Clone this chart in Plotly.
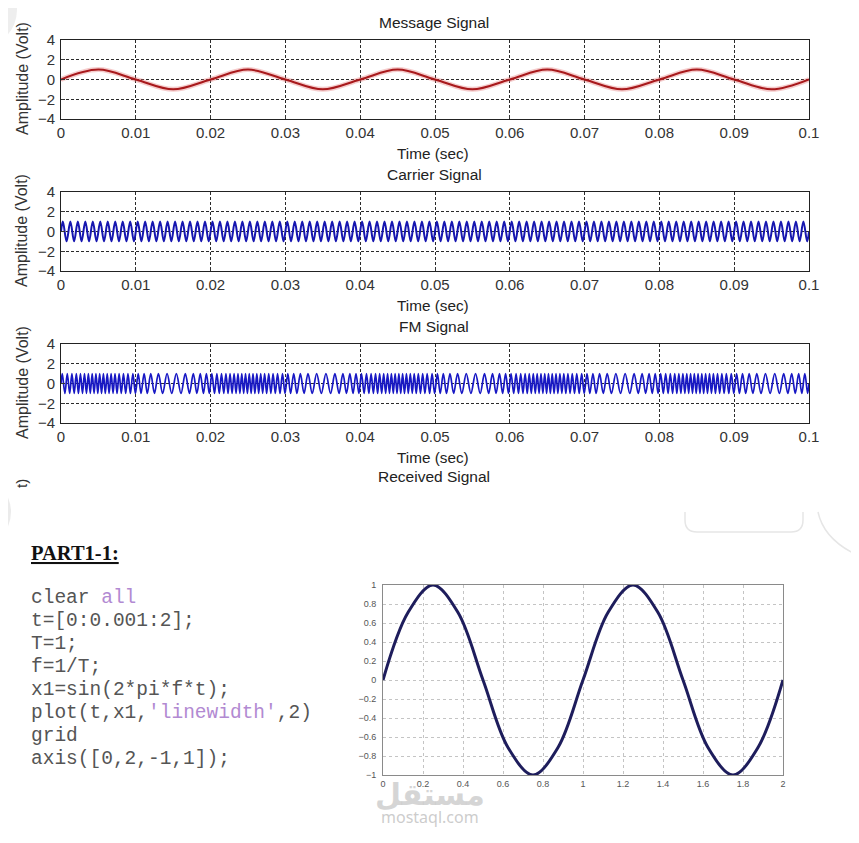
import numpy as np
import plotly.graph_objects as go

W, H = 859, 843
OFF = 8  # the page body margin shifts the figure by this much
FW, FH = W - OFF, H - OFF

# --- data ----------------------------------------------------------------

# message signal, quarter-period samples (s, V)
msg_t = [0.0, 0.005, 0.01, 0.015, 0.02, 0.025, 0.03, 0.035, 0.04, 0.045, 0.05,
         0.055, 0.06, 0.065, 0.07, 0.075, 0.08, 0.085, 0.09, 0.095, 0.1]
msg_v = [0, 1, 0, -1, 0, 1, 0, -1, 0, 1, 0, -1, 0, 1, 0, -1, 0, 1, 0, -1, 0]

# carrier: crest / trough times in ms (about one cycle per ms)
carrier_t_ms = [
    0,
    0.25, 0.75, 1.25, 1.75, 2.25, 2.75, 3.25, 3.75, 4.25, 4.75, 5.25, 5.75, 6.25, 6.75, 7.25, 7.75, 8.25, 8.75, 9.25, 9.75,
    10.25, 10.75, 11.25, 11.75, 12.25, 12.75, 13.25, 13.75, 14.25, 14.75, 15.25, 15.75, 16.25, 16.75, 17.25, 17.75, 18.25, 18.75, 19.25, 19.75,
    20.25, 20.75, 21.25, 21.75, 22.25, 22.75, 23.25, 23.75, 24.25, 24.75, 25.25, 25.75, 26.25, 26.75, 27.25, 27.75, 28.25, 28.75, 29.25, 29.75,
    30.25, 30.75, 31.25, 31.75, 32.25, 32.75, 33.25, 33.75, 34.25, 34.75, 35.25, 35.75, 36.25, 36.75, 37.25, 37.75, 38.25, 38.75, 39.25, 39.75,
    40.25, 40.75, 41.25, 41.75, 42.25, 42.75, 43.25, 43.75, 44.25, 44.75, 45.25, 45.75, 46.25, 46.75, 47.25, 47.75, 48.25, 48.75, 49.25, 49.75,
    50.25, 50.75, 51.25, 51.75, 52.25, 52.75, 53.25, 53.75, 54.25, 54.75, 55.25, 55.75, 56.25, 56.75, 57.25, 57.75, 58.25, 58.75, 59.25, 59.75,
    60.25, 60.75, 61.25, 61.75, 62.25, 62.75, 63.25, 63.75, 64.25, 64.75, 65.25, 65.75, 66.25, 66.75, 67.25, 67.75, 68.25, 68.75, 69.25, 69.75,
    70.25, 70.75, 71.25, 71.75, 72.25, 72.75, 73.25, 73.75, 74.25, 74.75, 75.25, 75.75, 76.25, 76.75, 77.25, 77.75, 78.25, 78.75, 79.25, 79.75,
    80.25, 80.75, 81.25, 81.75, 82.25, 82.75, 83.25, 83.75, 84.25, 84.75, 85.25, 85.75, 86.25, 86.75, 87.25, 87.75, 88.25, 88.75, 89.25, 89.75,
    90.25, 90.75, 91.25, 91.75, 92.25, 92.75, 93.25, 93.75, 94.25, 94.75, 95.25, 95.75, 96.25, 96.75, 97.25, 97.75, 98.25, 98.75, 99.25, 99.75,
    100,
]
carrier_v = [
    0,
    1, -1, 1, -1, 1, -1, 1, -1, 1, -1, 1, -1, 1, -1, 1, -1, 1, -1, 1, -1,
    1, -1, 1, -1, 1, -1, 1, -1, 1, -1, 1, -1, 1, -1, 1, -1, 1, -1, 1, -1,
    1, -1, 1, -1, 1, -1, 1, -1, 1, -1, 1, -1, 1, -1, 1, -1, 1, -1, 1, -1,
    1, -1, 1, -1, 1, -1, 1, -1, 1, -1, 1, -1, 1, -1, 1, -1, 1, -1, 1, -1,
    1, -1, 1, -1, 1, -1, 1, -1, 1, -1, 1, -1, 1, -1, 1, -1, 1, -1, 1, -1,
    1, -1, 1, -1, 1, -1, 1, -1, 1, -1, 1, -1, 1, -1, 1, -1, 1, -1, 1, -1,
    1, -1, 1, -1, 1, -1, 1, -1, 1, -1, 1, -1, 1, -1, 1, -1, 1, -1, 1, -1,
    1, -1, 1, -1, 1, -1, 1, -1, 1, -1, 1, -1, 1, -1, 1, -1, 1, -1, 1, -1,
    1, -1, 1, -1, 1, -1, 1, -1, 1, -1, 1, -1, 1, -1, 1, -1, 1, -1, 1, -1,
    1, -1, 1, -1, 1, -1, 1, -1, 1, -1, 1, -1, 1, -1, 1, -1, 1, -1, 1, -1,
    0,
]

# FM: crest / trough times in ms - tightly packed while the message is high,
# opened out (the visible slow waves) while it is low
fm_t_ms = [
    0,
    0.17, 0.52, 0.84, 1.16, 1.46, 1.76, 2.05, 2.33, 2.60, 2.87, 3.14, 3.40, 3.66, 3.91, 4.17, 4.42, 4.67, 4.92, 5.17, 5.42, 5.67, 5.92, 6.18, 6.43, 6.70, 6.96, 7.22, 7.49,
    7.77, 8.06, 8.35, 8.65, 8.95, 9.28, 9.61, 9.95, 10.32, 10.70, 11.11, 11.54, 12.00, 12.49, 13.02, 13.59, 14.18, 14.80, 15.42, 16.04, 16.62, 17.17, 17.69, 18.17, 18.62, 19.04, 19.44, 19.82,
    20.17, 20.52, 20.84, 21.16, 21.46, 21.76, 22.05, 22.33, 22.60, 22.87, 23.14, 23.40, 23.66, 23.91, 24.17, 24.42, 24.67, 24.92, 25.17, 25.42, 25.67, 25.92, 26.18, 26.43, 26.70, 26.96, 27.22, 27.49,
    27.77, 28.06, 28.35, 28.65, 28.95, 29.28, 29.61, 29.95, 30.32, 30.70, 31.11, 31.54, 32.00, 32.49, 33.02, 33.59, 34.18, 34.80, 35.42, 36.04, 36.62, 37.17, 37.69, 38.17, 38.62, 39.04, 39.44, 39.82,
    40.17, 40.52, 40.84, 41.16, 41.46, 41.76, 42.05, 42.33, 42.60, 42.87, 43.14, 43.40, 43.66, 43.91, 44.17, 44.42, 44.67, 44.92, 45.17, 45.42, 45.67, 45.92, 46.18, 46.43, 46.70, 46.96, 47.22, 47.49,
    47.77, 48.06, 48.35, 48.65, 48.95, 49.28, 49.61, 49.95, 50.32, 50.70, 51.11, 51.54, 52.00, 52.49, 53.02, 53.59, 54.18, 54.80, 55.42, 56.04, 56.62, 57.17, 57.69, 58.17, 58.62, 59.04, 59.44, 59.82,
    60.17, 60.52, 60.84, 61.16, 61.46, 61.76, 62.05, 62.33, 62.60, 62.87, 63.14, 63.40, 63.66, 63.91, 64.17, 64.42, 64.67, 64.92, 65.17, 65.42, 65.67, 65.92, 66.18, 66.43, 66.70, 66.96, 67.22, 67.49,
    67.77, 68.06, 68.35, 68.65, 68.95, 69.28, 69.61, 69.95, 70.32, 70.70, 71.11, 71.54, 72.00, 72.49, 73.02, 73.59, 74.18, 74.80, 75.42, 76.04, 76.62, 77.17, 77.69, 78.17, 78.62, 79.04, 79.44, 79.82,
    80.17, 80.52, 80.84, 81.16, 81.46, 81.76, 82.05, 82.33, 82.60, 82.87, 83.14, 83.40, 83.66, 83.91, 84.17, 84.42, 84.67, 84.92, 85.17, 85.42, 85.67, 85.92, 86.18, 86.43, 86.70, 86.96, 87.22, 87.49,
    87.77, 88.06, 88.35, 88.65, 88.95, 89.28, 89.61, 89.95, 90.32, 90.70, 91.11, 91.54, 92.00, 92.49, 93.02, 93.59, 94.18, 94.80, 95.42, 96.04, 96.62, 97.17, 97.69, 98.17, 98.62, 99.04, 99.44, 99.82,
    100,
]
fm_v = [
    0,
    1, -1, 1, -1, 1, -1, 1, -1, 1, -1, 1, -1, 1, -1, 1, -1, 1, -1, 1, -1, 1, -1, 1, -1, 1, -1, 1, -1,
    1, -1, 1, -1, 1, -1, 1, -1, 1, -1, 1, -1, 1, -1, 1, -1, 1, -1, 1, -1, 1, -1, 1, -1, 1, -1, 1, -1,
    1, -1, 1, -1, 1, -1, 1, -1, 1, -1, 1, -1, 1, -1, 1, -1, 1, -1, 1, -1, 1, -1, 1, -1, 1, -1, 1, -1,
    1, -1, 1, -1, 1, -1, 1, -1, 1, -1, 1, -1, 1, -1, 1, -1, 1, -1, 1, -1, 1, -1, 1, -1, 1, -1, 1, -1,
    1, -1, 1, -1, 1, -1, 1, -1, 1, -1, 1, -1, 1, -1, 1, -1, 1, -1, 1, -1, 1, -1, 1, -1, 1, -1, 1, -1,
    1, -1, 1, -1, 1, -1, 1, -1, 1, -1, 1, -1, 1, -1, 1, -1, 1, -1, 1, -1, 1, -1, 1, -1, 1, -1, 1, -1,
    1, -1, 1, -1, 1, -1, 1, -1, 1, -1, 1, -1, 1, -1, 1, -1, 1, -1, 1, -1, 1, -1, 1, -1, 1, -1, 1, -1,
    1, -1, 1, -1, 1, -1, 1, -1, 1, -1, 1, -1, 1, -1, 1, -1, 1, -1, 1, -1, 1, -1, 1, -1, 1, -1, 1, -1,
    1, -1, 1, -1, 1, -1, 1, -1, 1, -1, 1, -1, 1, -1, 1, -1, 1, -1, 1, -1, 1, -1, 1, -1, 1, -1, 1, -1,
    1, -1, 1, -1, 1, -1, 1, -1, 1, -1, 1, -1, 1, -1, 1, -1, 1, -1, 1, -1, 1, -1, 1, -1, 1, -1, 1, -1,
    0,
]

# PART1-1 sine, read at every 0.125 s
sine_t = [0, 0.125, 0.25, 0.375, 0.5, 0.625, 0.75, 0.875, 1,
          1.125, 1.25, 1.375, 1.5, 1.625, 1.75, 1.875, 2]
sine_v = [0, 0.71, 1, 0.71, 0, -0.71, -1, -0.71, 0,
          0.71, 1, 0.71, 0, -0.71, -1, -0.71, 0]

panel_titles = ["Message Signal", "Carrier Signal", "FM Signal", "Received Signal"]
code_lines = [
    "clear all",
    "t=[0:0.001:2];",
    "T=1;",
    "f=1/T;",
    "x1=sin(2*pi*f*t);",
    "plot(t,x1,'linewidth',2)",
    "grid",
    "axis([0,2,-1,1]);",
]
code_keywords = ["all", "'linewidth'"]


# page pixel -> paper fraction
def px(x):
    return (x - OFF) / FW


def py(y):
    return 1 - (y - OFF) / FH


fig = go.Figure()

# --- top three panels ------------------------------------------------------
sans = "Liberation Sans, Arial, sans-serif"
panel_tops = [40, 192, 344]
panel_h = 79

carrier_t = np.array(carrier_t_ms) / 1000.0
fm_t = np.array(fm_t_ms) / 1000.0

# soft glow under the message curve (jpeg bleed in the original)
fig.add_trace(go.Scatter(x=msg_t, y=msg_v, mode="lines", line=dict(color="rgba(225,110,110,0.35)", width=5, shape="spline"),
                         xaxis="x", yaxis="y", hoverinfo="skip"))
fig.add_trace(go.Scatter(x=msg_t, y=msg_v, mode="lines", line=dict(color="#a8191c", width=2, shape="spline"),
                         xaxis="x", yaxis="y"))
fig.add_trace(go.Scatter(x=carrier_t, y=carrier_v, mode="lines", line=dict(color="#1616b0", width=2, shape="spline"),
                         xaxis="x2", yaxis="y2"))
fig.add_trace(go.Scatter(x=fm_t, y=fm_v, mode="lines", line=dict(color="#1818c4", width=1.7, shape="spline"),
                         xaxis="x3", yaxis="y3"))

# --- PART1-1 sine ----------------------------------------------------------
fig.add_trace(go.Scatter(x=sine_t, y=sine_v, mode="lines", line=dict(color="#1e1d5c", width=3, shape="spline"),
                         xaxis="x4", yaxis="y4"))

top_x = dict(range=[0, 0.1], tick0=0, dtick=0.01, showgrid=True, gridcolor="#2a2a2a", gridwidth=1,
             griddash="3px,2px", showline=True, mirror=True, linecolor="#222", linewidth=1,
             ticks="inside", ticklen=4, tickcolor="#333", zeroline=False, automargin=False,
             tickfont=dict(family=sans, size=15, color="#333"), domain=[px(61), px(809)])
top_y = dict(range=[-4, 4], tick0=-4, dtick=2, showgrid=True, gridcolor="#2a2a2a", gridwidth=1,
             griddash="3px,2px", showline=True, mirror=True, linecolor="#222", linewidth=1,
             ticks="inside", ticklen=4, tickcolor="#333", zeroline=False, ticklabelstandoff=2,
             automargin=False, tickfont=dict(family=sans, size=15, color="#333"))

layout_axes = {}
for i, top in enumerate(panel_tops):
    sfx = "" if i == 0 else str(i + 1)
    layout_axes["xaxis" + sfx] = dict(top_x, anchor="y" + sfx)
    layout_axes["yaxis" + sfx] = dict(top_y, anchor="x" + sfx, domain=[py(top + panel_h), py(top)])

layout_axes["xaxis4"] = dict(range=[0, 2], dtick=0.2, showgrid=True, gridcolor="#c4c4c4", griddash="dot",
                             showline=True, mirror=True, linecolor="#8a8a8a", linewidth=1, zeroline=False,
                             ticks="", tickfont=dict(family=sans, size=9, color="#555"), automargin=False,
                             domain=[px(383), px(783)], anchor="y4", ticklabelstandoff=0)
layout_axes["yaxis4"] = dict(range=[-1, 1], dtick=0.2, showgrid=True, gridcolor="#c4c4c4", griddash="dot",
                             showline=True, mirror=True, linecolor="#8a8a8a", linewidth=1, zeroline=False,
                             ticks="", tickfont=dict(family=sans, size=9, color="#555"), automargin=False,
                             domain=[py(775), py(585)], anchor="x4", ticklabelstandoff=4)

annotations = []
title_ys = [22, 175, 326, 477]
for title, ty in zip(panel_titles, title_ys):
    annotations.append(dict(text=title, x=px(434), y=py(ty), xref="paper", yref="paper", showarrow=False,
                            xanchor="center", yanchor="middle", font=dict(family=sans, size=15.5, color="#222")))
for top in panel_tops:
    annotations.append(dict(text="Time (sec)", x=px(433), y=py(top + 113), xref="paper", yref="paper",
                            showarrow=False, xanchor="center", yanchor="middle",
                            font=dict(family=sans, size=15.3, color="#222")))
    annotations.append(dict(text="Amplitude (Volt)", x=px(22), y=py(top + 39), xref="paper", yref="paper",
                            showarrow=False, textangle=-90, xanchor="center", yanchor="middle",
                            font=dict(family=sans, size=16, color="#333")))
# cut-off label of the fourth panel
annotations.append(dict(text="t)", x=px(22), y=py(484), xref="paper", yref="paper", showarrow=False,
                        textangle=-90, xanchor="center", yanchor="middle",
                        font=dict(family=sans, size=15, color="#333")))

# PART1-1 heading and code
annotations.append(dict(text="<b><u>PART1-1:</u></b>", x=px(29), y=py(553), xref="paper", yref="paper",
                        showarrow=False, xanchor="left", yanchor="middle",
                        font=dict(family="Liberation Serif, Times New Roman, serif", size=20.5, color="#111")))
code_y0, code_step = 598, 23
for k, line in enumerate(code_lines):
    txt = line
    for kw in code_keywords:
        if kw in txt:
            txt = txt.replace(kw, '<span style="color:#b28ad2">' + kw + "</span>")
    annotations.append(dict(text=txt, x=px(29), y=py(code_y0 + k * code_step), xref="paper", yref="paper",
                            showarrow=False, xanchor="left", yanchor="middle",
                            font=dict(family="Liberation Mono, Courier New, monospace", size=19.5, color="#555")))

# watermark
annotations.append(dict(text="<b>مستقل</b>", x=px(430), y=py(794), xref="paper", yref="paper", showarrow=False,
                        xanchor="center", yanchor="middle",
                        font=dict(family="DejaVu Sans, Noto Sans", size=30, color="rgba(200,200,200,0.75)")))
annotations.append(dict(text="mostaql.com", x=px(430), y=py(817), xref="paper", yref="paper", showarrow=False,
                        xanchor="center", yanchor="middle",
                        font=dict(family="Noto Sans, Liberation Sans", size=16, color="rgba(195,195,195,0.85)")))


def pt(x, y):
    return f"{px(x):.5f},{py(y):.5f}"


shapes = [
    # phone-screenshot UI leftovers
    dict(type="circle", xref="paper", yref="paper", x0=px(-57), x1=px(17), y0=py(47), y1=py(-27),
         fillcolor="#eeeeee", line=dict(width=0), layer="below"),
    dict(type="circle", xref="paper", yref="paper", x0=px(-61), x1=px(11), y0=py(548), y1=py(476),
         fillcolor="#ebebeb", line=dict(width=0), layer="below"),
    dict(type="path", xref="paper", yref="paper", layer="below",
         path=f"M {pt(685, 512)} L {pt(685, 520)} Q {pt(685, 532)} {pt(697, 532)} L {pt(791, 532)} "
              f"Q {pt(803, 532)} {pt(803, 520)} L {pt(803, 512)}",
         line=dict(color="#e6e6e6", width=1.5)),
    dict(type="path", xref="paper", yref="paper", layer="below",
         path=f"M {pt(818, 512)} Q {pt(824, 540)} {pt(859, 556)}",
         line=dict(color="#e6e6e6", width=1.5)),
]

fig.update_layout(
    width=FW, height=FH,
    margin=dict(l=0, r=0, t=0, b=0, autoexpand=False),
    paper_bgcolor="white", plot_bgcolor="white",
    showlegend=False,
    annotations=annotations,
    shapes=shapes,
    **layout_axes,
)

fig.write_html("out.html")
